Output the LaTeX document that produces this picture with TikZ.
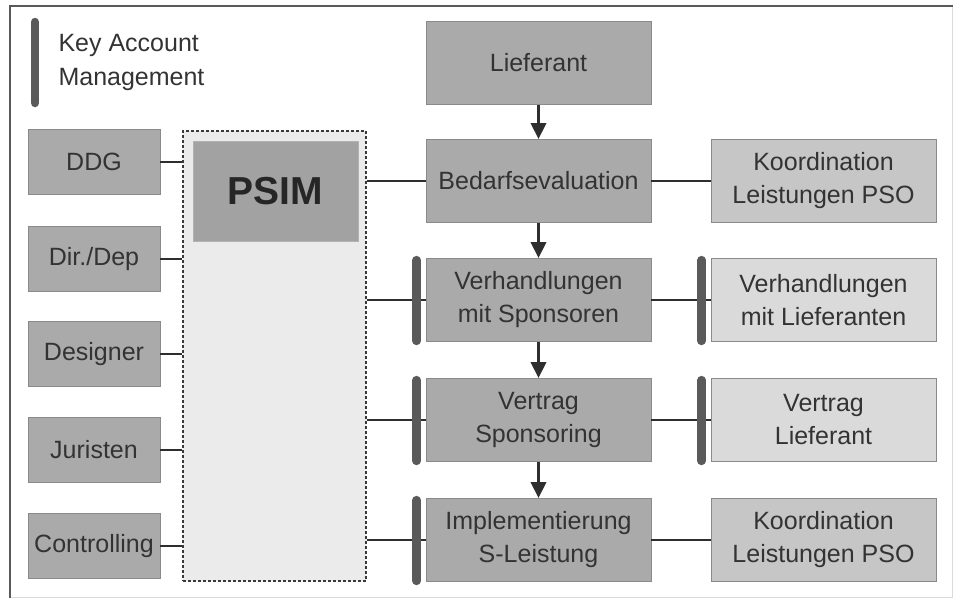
\documentclass[tikz,border=0pt]{standalone}
\usepackage{fontspec}
\setmainfont{Liberation Sans}
\usetikzlibrary{arrows.meta}
\definecolor{texte}{HTML}{333333}
\definecolor{bord}{HTML}{8A8A8A}
\definecolor{grisfonce}{HTML}{AAAAAA}
\definecolor{grispsim}{HTML}{A2A2A2}
\definecolor{grismoyen}{HTML}{C6C6C6}
\definecolor{grisclair}{HTML}{DADADA}
\definecolor{grisfond}{HTML}{EBEBEB}
\definecolor{trait}{HTML}{2E2E2E}
\definecolor{balken}{HTML}{5A5A5A}
\tikzset{
  boite/.style={draw=bord, line width=.8pt, inner sep=0pt, align=center, text=texte,
    font=\fontsize{25}{33}\selectfont},
  etape/.style={boite, fill=grisfonce, minimum width=225pt, minimum height=83pt},
  partenaire/.style={boite, fill=grisfonce, minimum width=132pt, minimum height=65pt},
  lien/.style={draw=trait, line width=1.6pt},
  fleche/.style={draw=trait, line width=3.5pt, -{Triangle[width=15pt,length=16pt]}},
  barre/.style={draw=balken, line width=8.5pt, line cap=round},
}
\begin{document}
\begin{tikzpicture}[x=1pt, y=-1pt]
    \useasboundingbox (0, 0) rectangle (953, 598) ;
    %--- Rahmen
      \draw[grisclair, line width=1pt] (952, 6) -- (952, 597) -- (10, 597) ;
      \draw[gray!70!black, line width=2.5pt] (10, 598) -- (10, 6) -- (953, 6) ;
    %--- Key Account Management
      \draw[barre] (35, 22) -- (35, 103) ;
      \node[anchor=west, align=left, text=texte, font=\fontsize{25}{34}\selectfont]
        (kam) at (55, 62) {Key Account\\Management} ;
    %--- PSIM
      \node[draw=gray!45!black, densely dashed, line width=1.2pt, fill=grisfond,
        minimum width=183pt, minimum height=450pt] (pool) at (274.5, 356) {} ;
      \node[boite, fill=grispsim, draw=gray!60, minimum width=165pt, minimum height=100pt,
        font=\fontsize{39}{42}\selectfont\bfseries, text=black!85] (psim) at (275.5, 191) {PSIM} ;
    %--- Partner links
      \node[partenaire] (ddg) at (94, 162) {DDG} ;
      \node[partenaire] (dir) at (94, 259) {Dir./Dep} ;
      \node[partenaire] (designer) at (94, 354) {Designer} ;
      \node[partenaire] (juristen) at (94, 450) {Juristen} ;
      \node[partenaire] (controlling) at (94, 546) {Controlling} ;
      \foreach \p in {ddg, dir, designer, juristen, controlling}
        \draw[lien] (\p.east) -- (\p.east -| pool.west) ;
    %--- Ablauf Mitte
      \node[etape] (lieferant) at (538.5, 63) {Lieferant} ;
      \node[etape] (bedarf) at (538.5, 181) {Bedarfsevaluation} ;
      \node[etape] (verhspons) at (538.5, 300) {Verhandlungen\\mit Sponsoren} ;
      \node[etape] (vertspons) at (538.5, 420) {Vertrag\\Sponsoring} ;
      \node[etape] (impl) at (538.5, 540) {Implementierung\\S-Leistung} ;
      \draw[fleche] (lieferant) -- (bedarf) ;
      \draw[fleche] (bedarf) -- (verhspons) ;
      \draw[fleche] (verhspons) -- (vertspons) ;
      \draw[fleche] (vertspons) -- (impl) ;
    %--- Spalte rechts
      \node[etape, fill=grismoyen] (koord) at (823.5, 181) {Koordination\\Leistungen PSO} ;
      \node[etape, fill=grisclair] (verhlief) at (823.5, 300) {Verhandlungen\\mit Lieferanten} ;
      \node[etape, fill=grisclair] (vertlief) at (823.5, 420) {Vertrag\\Lieferant} ;
      \node[etape, fill=grismoyen] (koordimpl) at (823.5, 540) {Koordination\\Leistungen PSO} ;
    %--- Verbindungen
      \draw[lien] (bedarf.west -| pool.east) -- (bedarf.west) ;
      \foreach \m in {verhspons, vertspons, impl}
        \draw[lien] (\m.west -| pool.east) -- (\m.west) ;
      \draw[lien] (bedarf) -- (koord) ;
      \draw[lien] (verhspons) -- (verhlief) ;
      \draw[lien] (vertspons) -- (vertlief) ;
      \draw[lien] (impl) -- (koordimpl) ;
    %--- Balken
      \foreach \m in {verhspons, vertspons, impl, verhlief, vertlief}
        \draw[barre] ([xshift=-9pt, yshift=-2pt]\m.north west)
          -- ([xshift=-9pt, yshift=1pt]\m.south west) ;
\end{tikzpicture}
\end{document}
